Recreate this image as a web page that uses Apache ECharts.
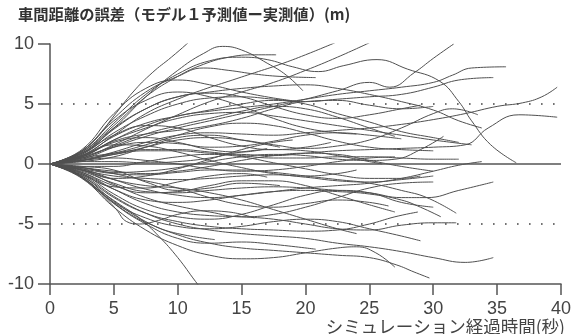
<!DOCTYPE html>
<html><head><meta charset="utf-8">
<script src="https://cdn.jsdelivr.net/npm/echarts@6/dist/echarts.min.js"></script>
<style>html,body{margin:0;padding:0;background:#fff}#c{width:574px;height:334px}</style>
</head><body><div id="c"></div>
<script>
const titleText = '車間距離の誤差（モデル１予測値ー実測値）(m)';
const xName = 'シミュレーション経過時間(秒)';
const xTicks = [0, 5, 10, 15, 20, 25, 30, 35, 40];
const yTicks = [-10, -5, 0, 5, 10];
const refLines = [0, 5, -5];

// trajectories: [time (s), error (m)]
const u1 = [[0,0],[2,0.8],[3.5,2.0],[5,4.0],[6.5,6.0],[8,7.6],[9.5,8.9],[10.7,10],[11.5,10.8]];
const u2 = [[0,0],[2.5,0.9],[5,3.0],[7.5,5.6],[10,7.8],[12,9.2],[13.5,9.8],[15,9.5],[17,8.4],[18.5,7.4],[19.8,6.1]];
const u3 = [[0,0],[2.5,1.0],[5,3.2],[7.5,5.6],[10,7.3],[12,8.3],[14,8.9],[16,9.1],[17.7,9.1]];
const u4 = [[0,0],[2.5,0.7],[5,2.4],[7.5,4.2],[10,5.4],[12,6.2],[14,6.9],[16,7.6],[18,8.3],[20,9.1],[22.3,10.1]];
const u5 = [[0,0],[2.5,0.5],[5,1.6],[7.5,2.9],[10,4.1],[12.5,5.2],[15,6.0],[17.5,6.8],[20,7.8],[22.5,8.9],[25,10.1]];
const u6 = [[0,0],[2.5,1.0],[5,3.4],[7.5,5.8],[10,7.5],[12.5,8.6],[15,8.9],[17,8.7],[19,8.1],[21,7.7],[23,8.2],[25.6,8.7],[28,7.9],[30.5,6.9],[32,5.2],[33,3.6],[34.5,1.6],[36.5,0.1]];
const u7 = [[0,0],[2.5,1.1],[5,3.8],[7.5,6.0],[10,7.3],[12,8.0],[14,7.8],[16,7.5],[18,7.3],[20.8,7.2]];
const u8 = [[0,0],[2.5,0.4],[5,1.4],[7.5,2.3],[10,3.0],[12.5,3.6],[15,4.2],[17.5,4.8],[20,5.4],[22.5,6.1],[25,6.8],[26.6,6.4],[28.5,7.6],[30,8.8],[31.6,10]];
const u9 = [[0,0],[2.5,0.6],[5,2.0],[7.5,3.2],[10,4.0],[12.5,4.4],[15,4.7],[17.5,5.0],[20,5.4],[22.5,5.8],[25,6.1],[27.5,6.4],[30,6.8],[31.5,7.4],[33,8.0],[35.7,8.1]];
const u10 = [[0,0],[2.5,0.8],[5,2.6],[7.5,4.0],[10,5.0],[12.5,5.5],[15,5.6],[17.5,5.4],[20,5.2],[22.5,5.4],[25,5.6],[27.5,5.8],[30,6.4],[32,7.0],[34.7,7.2]];
const u11 = [[0,0],[2.5,0.3],[5,1.0],[7.5,1.8],[10,2.4],[12.5,2.6],[15,2.5],[17.5,2.4],[20,2.6],[22.5,2.8],[25,3.0],[27.5,3.3],[30,3.7],[32.5,4.2],[35,4.8],[37,5.1],[38.5,5.6],[39.7,6.4]];
const u12 = [[0,0],[2.5,0.3],[5,0.8],[7.5,1.1],[10,1.1],[12.5,0.9],[15,0.8],[17.5,0.7],[20,0.9],[22.5,1.1],[25,1.2],[27.5,1.3],[30,1.4],[32.5,1.6],[34.3,3.0],[36.7,4.1],[39.7,3.9]];
const u13 = [[0,0],[2.5,0.9],[5,3.0],[7.5,4.6],[10,5.6],[12.5,6.0],[15,6.3],[17.5,6.5],[20,6.6],[22.5,6.3],[25,5.8],[27.5,5.2],[30,4.5],[32,3.6],[33.8,3.0]];
const u14 = [[0,0],[2.5,0.7],[5,2.3],[7.5,3.4],[10,4.0],[12.5,4.5],[15,5.0],[17.5,5.3],[20,5.0],[22.5,4.2],[25,3.5],[27.5,2.7],[30,2.2],[32,1.8]];
const u15 = [[0,0],[2.5,0.3],[5,0.8],[7.5,1.4],[10,2.0],[12.5,2.2],[15,2.0],[17.5,1.6],[20,1.3],[22.5,1.5],[25,2.0],[27.5,3.0],[30,4.2],[31.5,4.6],[33.5,4.1]];
const u16 = [[0,0],[2.5,0.6],[5,2.0],[7.5,3.0],[10,3.8],[12.5,4.2],[15,4.3],[17.5,4.0],[20,3.6],[22.5,3.2],[25,2.8],[27.5,2.4],[30,2.0],[33,1.6]];
const u17 = [[0,0],[2.5,-0.3],[5,-0.7],[7.5,-0.6],[10,-0.3],[12.5,0.2],[15,0.6],[17.5,0.8],[20,0.7],[22.5,0.4],[25,0.3],[27,0.4],[29,1.2],[30.8,2.3]];
const u18 = [[0,0],[2.5,-0.4],[5,-1.3],[7.5,-2.1],[10,-2.6],[12.5,-2.8],[15,-2.6],[17.5,-2.3],[20,-2.0],[22.5,-1.8],[25,-1.6],[27.5,-1.2],[30,-0.6],[32,-0.1],[33.8,0.2]];
const u19 = [[0,0],[2.5,0.8],[5,2.9],[7.5,4.6],[10,5.6],[12.5,5.9],[15,5.6],[17.5,4.8],[20,4.1],[22.5,3.8],[25,4.1],[27.5,4.6],[29,4.9]];
const u20 = [[0,0],[2.5,1.1],[5,3.6],[7.5,5.3],[10,6.0],[12.5,5.6],[15,4.8],[17.5,3.8],[20,3.0],[22.5,2.6],[24,2.5]];
const u21 = [[0,0],[2.5,0.5],[5,1.5],[7.5,2.5],[10,3.2],[12.5,3.8],[15,4.4],[17.5,4.8],[20,4.6],[22.5,3.9],[25,3.0],[27,2.3]];
const u22 = [[0,0],[2.5,0.7],[5,1.9],[7.5,2.5],[10,2.8],[12.5,3.2],[15,3.8],[17.5,4.6],[20,5.2],[22.5,5.3],[25,4.9],[27.5,4.6],[30,4.8]];
const u23 = [[0,0],[2.5,1.2],[5,4.2],[7.5,6.3],[10,7.0],[12.5,6.6],[15,6.0],[17.5,5.5],[19.5,5.2]];
const u24 = [[0,0],[2.5,0.4],[5,0.9],[7.5,1.6],[10,2.4],[12.5,3.1],[15,3.4],[17.5,3.2],[20,2.6],[22.5,1.9],[25,1.4],[27.5,1.2],[30,1.1]];
const z1 = [[0,0],[2.5,0.5],[5,0.9],[7.5,1.2],[10,1.2],[12.5,1.0],[15,0.7],[17.5,0.5],[20,0.5],[22.5,0.6],[25,0.6],[27.5,0.5],[30,0.4],[32,0.4]];
const z2 = [[0,0],[2.5,0.3],[5,0.5],[7.5,0.3],[10,0.0],[12.5,-0.4],[15,-0.6],[17.5,-0.5],[20,-0.2],[22.5,0.2],[25,0.5],[27,0.6]];
const z3 = [[0,0],[2.5,-0.3],[5,-0.6],[7.5,-0.8],[10,-0.6],[12.5,-0.2],[15,0.3],[17.5,0.7],[20,0.9],[22.5,0.8],[25,0.3],[27.5,-0.2],[30,-0.6]];
const z4 = [[0,0],[2.5,0.6],[5,1.4],[7.5,1.8],[10,1.7],[12.5,1.4],[15,1.5],[17.5,1.9],[20,2.4],[22.5,2.6],[25,2.4],[27.5,2.1]];
const z5 = [[0,0],[2.5,-0.5],[5,-1.0],[7.5,-1.2],[10,-1.3],[12.5,-1.2],[15,-1.0],[17.5,-0.9],[20,-1.1],[22.5,-1.4],[25,-1.5],[27.5,-1.3],[30,-1.0]];
const z6 = [[0,0],[2.5,0.2],[5,0.2],[7.5,0.1],[10,0.2],[12.5,0.5],[15,1.0],[17.5,1.2],[20,1.1],[22.5,0.7],[25,0.2],[26,0.0]];
const z7 = [[0,0],[2.5,-0.2],[5,-0.2],[7.5,0.2],[10,0.6],[12.5,0.8],[15,0.6],[17.5,0.1],[20,-0.4],[22.5,-0.9],[25,-1.2],[27.5,-1.2],[29,-1.0]];
const z8 = [[0,0],[2.5,0.7],[5,1.6],[7.5,1.5],[10,1.0],[12.5,0.3],[15,-0.3],[17.5,-0.8],[20,-1.0],[22.5,-0.8],[24,-0.5]];
const c1 = [[0,0],[2.5,0.6],[5,1.8],[7.5,2.2],[10,1.8],[12.5,1.2],[15,1.0],[17,1.3]];
const c2 = [[0,0],[2.5,-0.5],[5,-1.2],[7.5,-1.0],[10,-0.4],[12.5,0.4],[15,1.2],[17.5,1.8],[19,2.0]];
const c3 = [[0,0],[2.5,0.2],[5,0.6],[7.5,1.4],[10,2.2],[12.5,2.4],[15,2.0],[18,1.4]];
const c4 = [[0,0],[2.5,-0.2],[5,-0.5],[7.5,-1.5],[10,-2.2],[12.5,-2.0],[15,-1.6],[18,-1.8]];
const c5 = [[0,0],[2.5,0.9],[5,2.4],[7.5,3.2],[10,3.0],[12.5,2.2],[15,1.5],[17.5,1.2],[20,1.4],[22,1.8]];
const c6 = [[0,0],[2.5,-0.9],[5,-1.9],[7.5,-2.0],[10,-1.5],[12.5,-1.0],[15,-0.8],[17,-1.1]];
const n1 = [[0,0],[2.5,-0.4],[5,-0.8],[7.5,-0.9],[10,-0.7],[12.5,-0.5],[15,-0.5],[17.5,-0.7],[20,-1.0],[22.5,-1.3],[25,-1.6],[27.5,-2.2],[29.5,-2.8],[31.8,-4.1]];
const n2 = [[0,0],[2.5,-0.6],[5,-1.6],[7.5,-2.3],[10,-2.4],[12.5,-2.2],[15,-2.0],[17.5,-1.9],[20,-2.0],[22.5,-2.2],[25,-2.4],[27.5,-2.8],[29.5,-2.8],[32,-2.2],[34.7,-1.5]];
const n3 = [[0,0],[2.5,-0.8],[5,-2.1],[7.5,-3.0],[10,-3.2],[12.5,-3.0],[15,-2.6],[17.5,-2.3],[20,-2.2],[22.5,-2.3],[25,-2.5],[27.5,-3.0],[29,-3.6],[30.6,-4.4]];
const n4 = [[0,0],[2.5,-1.0],[5,-2.8],[7.5,-4.1],[10,-4.8],[12.5,-5.2],[15,-5.4],[17.5,-5.5],[20,-5.6],[22.5,-5.5],[25,-5.0],[27,-4.4],[28.8,-4.0]];
const n5 = [[0,0],[2.5,-0.7],[5,-2.1],[7.5,-3.3],[10,-4.0],[12.5,-4.3],[15,-4.4],[17.5,-4.6],[20,-5.0],[22.5,-5.4],[25,-5.5],[27.5,-5.1],[30,-4.9],[31.8,-4.9]];
const n6 = [[0,0],[2.5,-0.9],[5,-2.7],[7.5,-4.1],[10,-5.0],[12.5,-5.5],[15,-5.8],[17.5,-6.0],[20,-6.2],[22.5,-6.6],[25,-6.9],[27.5,-7.3],[30,-7.8],[32.5,-8.2],[34.7,-7.8]];
const n7 = [[0,0],[2.5,-1.0],[5,-3.1],[7.5,-4.8],[10,-5.9],[12.5,-6.6],[15,-7.0],[17.5,-7.2],[20,-7.4],[22.5,-7.6],[25,-7.8],[27.1,-8.4],[28.5,-9.0],[29.7,-9.5]];
const n8 = [[0,0],[1.5,-0.5],[3,-1.5],[4,-2.3],[5.5,-3.4],[7,-4.5],[8.5,-6.0],[10,-7.8],[11.4,-9.8],[12,-10.6]];
const n9 = [[0,0],[1.5,-0.5],[3.1,-1.6],[4.5,-3.0],[5.2,-3.8],[6,-4.8],[7,-5.0],[8.5,-4.7],[10,-4.2],[12,-3.9],[14,-4.0],[16,-4.5]];
const n10 = [[0,0],[2,-0.8],[4,-2.4],[6,-4.0],[8,-5.1],[10,-5.8],[12.9,-6.3]];
const n11 = [[0,0],[2.5,-1.1],[5,-3.3],[7.5,-5.0],[10,-6.2],[12.5,-6.6],[15,-6.5],[17.5,-6.7],[20.8,-7.1]];
const n12 = [[0,0],[2.5,-1.2],[5,-3.6],[7.5,-5.5],[10,-6.8],[12.5,-7.6],[15,-7.9],[17.5,-7.8],[20,-7.4],[22.5,-7.0],[24,-6.9],[25.5,-7.4],[27,-8.6]];
const n13 = [[0,0],[2.5,-0.5],[5,-1.7],[7.5,-2.8],[10,-3.5],[12.5,-4.0],[15,-4.4],[17.5,-4.2],[20,-3.6],[22.5,-2.8],[25,-2.0],[27.5,-1.6],[30,-1.5]];
const n14 = [[0,0],[2.5,-0.5],[5,-1.3],[7.5,-1.8],[10,-2.0],[12.5,-2.4],[15,-3.0],[17.5,-3.8],[20,-4.6],[22.5,-5.4],[24,-5.8]];
const n15 = [[0,0],[2.5,-0.8],[5,-2.5],[7.5,-3.8],[10,-4.4],[12.5,-4.6],[15,-4.2],[17.5,-3.4],[20,-2.6],[22.5,-2.2],[25,-2.4],[27.5,-3.2],[30,-3.6]];
const n16 = [[0,0],[2.5,-0.3],[5,-0.8],[7.5,-1.4],[10,-2.0],[12.5,-2.8],[15,-3.4],[17.5,-3.6],[20,-3.3],[22.5,-3.0],[25,-3.2],[26.5,-3.5]];
const n17 = [[0,0],[2.5,-1.1],[5,-3.2],[7.5,-4.5],[10,-5.2],[12.5,-5.4],[15,-5.2],[17.5,-4.8],[20,-4.6],[22.5,-4.8],[25,-5.4],[27.5,-6.0],[29,-6.4]];
const n18 = [[0,0],[2.5,-0.7],[5,-1.8],[7.5,-2.4],[10,-2.3],[12.5,-1.8],[15,-1.4],[17.5,-1.4],[20,-1.8],[22.5,-2.6],[25,-3.4],[27,-4.0]];

const runs = [u1,u2,u3,u4,u5,u6,u7,u8,u9,u10,u11,u12,u13,u14,u15,u16,u17,u18,u19,u20,u21,u22,u23,u24,
  z1,z2,z3,z4,z5,z6,z7,z8,c1,c2,c3,c4,c5,c6,n1,n2,n3,n4,n5,n6,n7,n8,n9,n10,n11,n12,n13,n14,n15,n16,n17,n18];

const ink = '#505050';
const series = runs.map(d => ({
  type: 'line', data: d, smooth: 0.45, showSymbol: false, symbol: 'none', silent: true,
  lineStyle: { color: ink, width: 1 }, clip: true, z: 2
}));
series.push({
  type: 'line', data: [], silent: true,
  markLine: {
    silent: true, symbol: 'none', label: { show: false },
    data: refLines.map(v => ({
      yAxis: v,
      lineStyle: v === 0
        ? { color: '#555', width: 1.5, type: 'solid' }
        : { color: '#444', width: 1.6, type: [1.6, 10.4], dashOffset: -11 }
    }))
  }
});

const chart = echarts.init(document.getElementById('c'));
chart.setOption({
  animation: false,
  backgroundColor: '#fff',
  title: [
    { text: titleText, left: 13, top: 2, textStyle: { fontFamily: 'Noto Sans CJK JP', fontSize: 15.3, fontWeight: 'bold', color: '#333' } },
    { text: xName, right: 4, top: 313, textStyle: { fontFamily: 'Noto Sans CJK JP', fontSize: 17.5, fontWeight: 'normal', color: '#444' } }
  ],
  grid: { left: 50, right: 8, top: 44, bottom: 50 },
  xAxis: {
    type: 'value', min: xTicks[0], max: xTicks[xTicks.length - 1], interval: 5,
    axisLine: { onZero: false, lineStyle: { color: '#555', width: 1.5 } },
    axisTick: { show: true, length: 11, lineStyle: { color: '#555', width: 1.5 } },
    axisLabel: { margin: 16, fontSize: 18, fontFamily: 'Liberation Sans', color: '#444' },
    splitLine: { show: false }
  },
  yAxis: {
    type: 'value', min: yTicks[0], max: yTicks[yTicks.length - 1], interval: 5,
    axisLine: { show: true, onZero: false, lineStyle: { color: '#555', width: 1.5 } },
    axisTick: { show: true, length: 12, lineStyle: { color: '#555', width: 1.5 } },
    axisLabel: { margin: 16, fontSize: 18, fontFamily: 'Liberation Sans', color: '#444' },
    splitLine: { show: false }
  },
  series: series
});
</script></body></html>
